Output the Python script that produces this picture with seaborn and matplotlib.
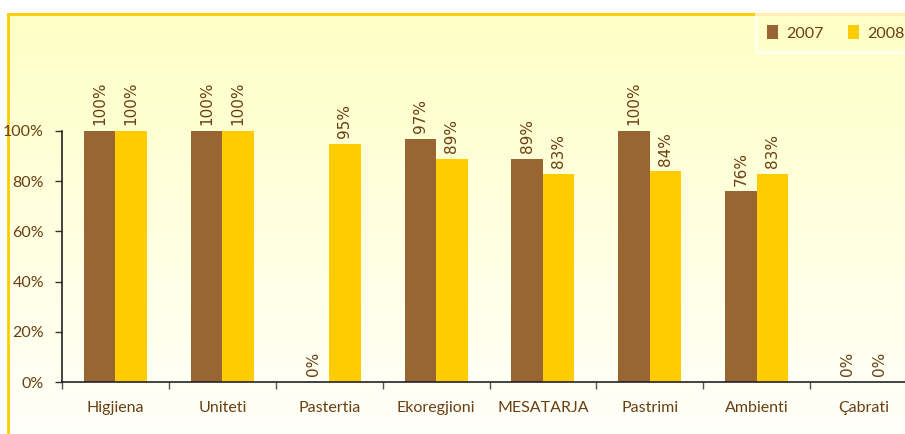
import numpy as np
import pandas as pd
import matplotlib
matplotlib.use("Agg")
import matplotlib.pyplot as plt
import seaborn as sns

categories = ["Higjiena", "Uniteti", "Pastertia", "Ekoregjioni",
              "MESATARJA", "Pastrimi", "Ambienti", "Çabrati"]
values_2007 = [1.00, 1.00, 0.00, 0.97, 0.89, 1.00, 0.76, 0.00]
values_2008 = [1.00, 1.00, 0.95, 0.89, 0.83, 0.84, 0.83, 0.00]
years = ["2007", "2008"]

brown = "#996633"
gold = "#FFCC00"
text_col = "#6B3E12"

df = pd.DataFrame({
    "category": categories * 2,
    "year": [years[0]] * len(categories) + [years[1]] * len(categories),
    "value": values_2007 + values_2008,
})

sns.set_style("white")
plt.rcParams["font.family"] = ["Lato", "DejaVu Sans"]

fig = plt.figure(figsize=(9.05, 4.34), dpi=100)

# gradient background with yellow frame lines on left and top
bg = fig.add_axes([8 / 905, 0, 1, (434 - 14) / 434], zorder=0)
grad = np.linspace(0, 1, 256).reshape(-1, 1)
cmap = matplotlib.colors.LinearSegmentedColormap.from_list("bg", ["#FFFFC6", "#FFFFFA"])
bg.imshow(grad, aspect="auto", cmap=cmap, extent=[0, 1, 0, 1], origin="upper")
bg.set_xticks([])
bg.set_yticks([])
for s in ["right", "bottom"]:
    bg.spines[s].set_visible(False)
for s in ["left", "top"]:
    bg.spines[s].set_color(gold)
    bg.spines[s].set_linewidth(2)

ax = fig.add_axes([62 / 905, 52 / 434, 855 / 905, 251 / 434], zorder=1)
ax.patch.set_alpha(0)

sns.barplot(data=df, x="category", y="value", hue="year",
            palette=[brown, gold], width=0.59, saturation=1,
            linewidth=0, ax=ax, legend=True)

for cont in ax.containers:
    ax.bar_label(cont, fmt="{:.0%}", rotation=90, padding=4,
                 fontsize=11, color=text_col, family="DejaVu Sans",
                 clip_on=False)

ax.set_ylim(0, 1.0)
ax.set_xlim(-0.5, 7.5)
ax.set_yticks([0, 0.2, 0.4, 0.6, 0.8, 1.0])
ax.set_yticklabels(["0%", "20%", "40%", "60%", "80%", "100%"])
ax.set_xlabel("")
ax.set_ylabel("")

ax.set_xticks(np.arange(-0.5, 8.0, 1.0), minor=True)
ax.tick_params(axis="x", which="major", length=0, pad=14,
               labelsize=11.5, labelcolor=text_col)
ax.tick_params(axis="x", which="minor", length=5, width=1,
               color="#555555", direction="out", bottom=True)
ax.tick_params(axis="y", which="major", length=5, width=1,
               color="#333333", direction="out", left=True,
               labelsize=11.5, labelcolor=text_col, pad=8)

sns.despine(ax=ax)
for s in ["left", "bottom"]:
    ax.spines[s].set_color("#222222")
    ax.spines[s].set_linewidth(1.2)

handles, labels = ax.get_legend_handles_labels()
ax.get_legend().remove()
leg = fig.legend(handles, labels, loc="upper left",
                 bbox_to_anchor=(756 / 905, 1 - 14 / 434), ncol=2,
                 frameon=True, fancybox=False, fontsize=11.5,
                 handlelength=0.7, handleheight=1.0, columnspacing=1.5,
                 handletextpad=0.5, borderpad=0.7, borderaxespad=0)
leg.get_frame().set_edgecolor("white")
leg.get_frame().set_linewidth(1.8)
leg.get_frame().set_facecolor("none")
for t in leg.get_texts():
    t.set_color(text_col)

fig.savefig("out.png", dpi=100)
